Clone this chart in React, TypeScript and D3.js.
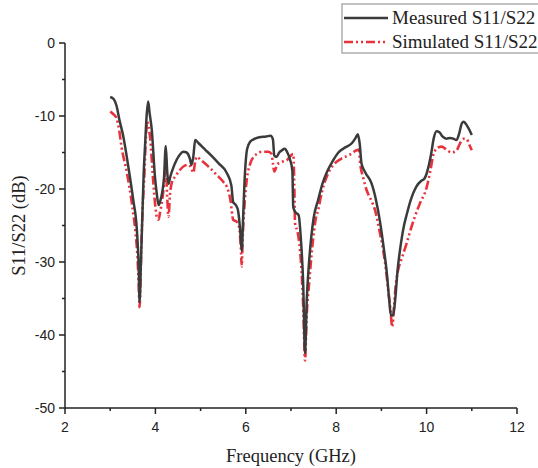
import React from "react";
import * as d3 from "d3";

const measuredX = [3.0,3.08,3.14,3.2,3.29,3.4,3.51,3.59,3.63,3.65,3.68,3.71,3.74,3.77,3.81,3.84,3.87,3.92,3.99,4.03,4.07,4.1,4.15,4.19,4.23,4.26,4.29,4.33,4.4,4.54,4.62,4.69,4.76,4.8,4.84,4.88,4.95,5.1,5.25,5.4,5.58,5.68,5.72,5.78,5.83,5.88,5.91,5.94,5.98,6.03,6.1,6.17,6.3,6.45,6.55,6.6,6.63,6.68,6.74,6.8,6.86,6.92,6.98,7.03,7.05,7.1,7.17,7.22,7.27,7.31,7.35,7.4,7.45,7.5,7.6,7.7,7.8,7.92,8.05,8.2,8.35,8.43,8.48,8.52,8.56,8.65,8.78,8.88,8.97,9.05,9.12,9.17,9.21,9.26,9.3,9.36,9.42,9.5,9.56,9.65,9.78,9.88,9.95,10.04,10.1,10.16,10.22,10.28,10.35,10.44,10.52,10.59,10.66,10.72,10.78,10.82,10.87,10.92,11.0];
const measuredY = [-7.4,-7.7,-8.6,-10.4,-12.8,-16.9,-21.5,-25.6,-30.6,-35.5,-30,-24,-18,-14.2,-9.6,-8.0,-9.5,-11.9,-18.3,-20.6,-22.2,-21.8,-20.5,-18.5,-14.1,-17.5,-19.3,-18.3,-17.0,-15.3,-14.9,-15.0,-15.8,-16.7,-15.5,-13.3,-13.7,-14.6,-15.5,-16.5,-17.8,-19.5,-21.8,-22.2,-23,-26,-28.5,-24,-18,-14.5,-13.5,-13.2,-12.9,-12.8,-12.7,-13.2,-15.4,-15.6,-15.0,-14.7,-14.5,-15.0,-16.0,-17.5,-22.5,-23.2,-23.6,-27,-33,-42.5,-35,-30,-26.5,-24,-21.5,-19.2,-17.6,-16.2,-15.0,-14.3,-13.7,-13.0,-12.5,-13.8,-16.5,-17.8,-19.2,-21.5,-24.5,-28,-31.5,-35,-37.3,-37.3,-35.5,-31,-28,-25,-23.5,-21.5,-19.6,-18.9,-18.6,-17.0,-15.2,-13.0,-12.1,-12.2,-12.8,-13.1,-13.0,-13.1,-13.3,-12.4,-11.0,-10.8,-11.1,-11.6,-12.6];

const simulatedX = [3.0,3.08,3.14,3.2,3.25,3.37,3.48,3.56,3.6,3.63,3.65,3.68,3.7,3.73,3.75,3.79,3.82,3.85,3.88,3.95,4.0,4.03,4.07,4.1,4.17,4.21,4.23,4.26,4.29,4.32,4.36,4.45,4.54,4.65,4.73,4.8,4.84,4.88,4.91,5.0,5.17,5.36,5.5,5.58,5.66,5.72,5.8,5.85,5.89,5.91,5.93,5.96,6.0,6.02,6.1,6.17,6.25,6.35,6.5,6.57,6.6,6.63,6.7,6.8,6.92,7.0,7.05,7.07,7.09,7.15,7.22,7.27,7.31,7.35,7.4,7.47,7.55,7.6,7.68,7.75,7.85,7.97,8.1,8.3,8.45,8.5,8.53,8.6,8.67,8.77,8.86,8.95,9.04,9.1,9.15,9.2,9.24,9.28,9.32,9.37,9.45,9.56,9.65,9.74,9.85,10.0,10.08,10.15,10.19,10.26,10.33,10.44,10.55,10.62,10.67,10.72,10.78,10.84,10.89,10.95,11.0];
const simulatedY = [-9.4,-9.8,-10.3,-12,-14.2,-17.8,-22,-26,-29,-33,-36.2,-30,-25.6,-21,-18.8,-13,-10.8,-11.5,-12.8,-18.8,-22.5,-23.8,-24.2,-23.3,-20.6,-18,-16.9,-21,-23.8,-21,-19.2,-18.2,-17.4,-16.8,-16.7,-17.2,-17.8,-16.2,-15.6,-16,-16.9,-18.1,-19,-19.7,-21.5,-24.2,-24.5,-25.2,-28,-30.6,-27,-23.3,-20,-18.8,-16.5,-15.6,-15.2,-14.9,-14.9,-15.2,-16.5,-17.6,-16.6,-16.3,-16,-15.4,-15.2,-18.5,-24.7,-26,-30,-36,-43.5,-37,-33,-28,-24,-22.9,-20.5,-19,-17.5,-16.5,-15.9,-15.3,-14.7,-14.6,-16.5,-18.5,-20.1,-21.5,-22.9,-25.5,-28.4,-31,-33.8,-36.5,-38.9,-36,-33,-31.1,-29.5,-27.4,-25.5,-23.8,-22,-19.8,-17.6,-15.3,-14.7,-14.3,-14.2,-14.6,-15.0,-14.9,-14.7,-14.0,-13.3,-13.1,-13.2,-14.0,-14.7];

const xTicks = [2, 4, 6, 8, 10, 12];
const yTicks = [0, -10, -20, -30, -40, -50];
const xMinor = [3, 5, 7, 9, 11];
const yMinor = [-5, -15, -25, -35, -45];
const seriesNames = ["Measured S11/S22", "Simulated S11/S22"];

const W = 538, H = 468;
const left = 65, right = 517, top = 43, bottom = 408;
const MEAS = "#3b3b3b";
const SIM = "#e8333c";
const DASH = "9,3,2,3,2,3";

export default function App() {
  const x = d3.scaleLinear().domain([2, 12]).range([left, right]);
  const y = d3.scaleLinear().domain([-50, 0]).range([bottom, top]);
  const line = d3
    .line<[number, number]>()
    .x((d) => x(d[0]))
    .y((d) => y(d[1]))
    .curve(d3.curveMonotoneX);
  const meas = measuredX.map((v, i) => [v, measuredY[i]] as [number, number]);
  const sim = simulatedX.map((v, i) => [v, simulatedY[i]] as [number, number]);
  const axisColor = "#222";
  const sans = "Arial, 'Liberation Sans', sans-serif";
  const serif = "'Times New Roman', 'Liberation Serif', serif";
  return (
    <svg width={W} height={H} style={{ position: "absolute", left: 0, top: 0, background: "#fff" }}>
      <path d={line(sim) || ""} fill="none" stroke={SIM} strokeWidth={2.6} strokeDasharray={DASH} />
      <path d={line(meas) || ""} fill="none" stroke={MEAS} strokeWidth={2.5} />
      {/* axes */}
      <line x1={left} x2={left} y1={top} y2={bottom} stroke={axisColor} strokeWidth={1.5} />
      <line x1={left} x2={right} y1={bottom} y2={bottom} stroke={axisColor} strokeWidth={1.5} />
      {yTicks.map((t) => (
        <g key={"yt" + t}>
          <line x1={left - 6} x2={left} y1={y(t)} y2={y(t)} stroke={axisColor} strokeWidth={1.5} />
          <text x={left - 10} y={y(t)} dy="0.35em" textAnchor="end" fontFamily={sans} fontSize={14} fill="#222">
            {t}
          </text>
        </g>
      ))}
      {yMinor.map((t) => (
        <line key={"ym" + t} x1={left - 3} x2={left} y1={y(t)} y2={y(t)} stroke={axisColor} strokeWidth={1.5} />
      ))}
      {xTicks.map((t) => (
        <g key={"xt" + t}>
          <line x1={x(t)} x2={x(t)} y1={bottom} y2={bottom + 6} stroke={axisColor} strokeWidth={1.5} />
          <text x={x(t)} y={bottom + 24} textAnchor="middle" fontFamily={sans} fontSize={14} fill="#222">
            {t}
          </text>
        </g>
      ))}
      {xMinor.map((t) => (
        <line key={"xm" + t} x1={x(t)} x2={x(t)} y1={bottom} y2={bottom + 3} stroke={axisColor} strokeWidth={1.5} />
      ))}
      <text x={(left + right) / 2} y={462} textAnchor="middle" fontFamily={serif} fontSize={18.5} fill="#222">
        Frequency (GHz)
      </text>
      <text
        transform={`translate(25, ${(top + bottom) / 2}) rotate(-90)`}
        textAnchor="middle"
        fontFamily={serif}
        fontSize={18.5}
        fill="#222"
      >
        S11/S22 (dB)
      </text>
      {/* legend */}
      <rect x={342} y={4} width={200} height={49} fill="#fff" stroke="#9a9a9a" strokeWidth={1.2} />
      <line x1={344} x2={388} y1={18} y2={18} stroke={MEAS} strokeWidth={2.5} />
      <text x={392} y={24} fontFamily={serif} fontSize={19} fill="#222">
        {seriesNames[0]}
      </text>
      <line x1={344} x2={388} y1={42} y2={42} stroke={SIM} strokeWidth={2.6} strokeDasharray={DASH} />
      <text x={392} y={48} fontFamily={serif} fontSize={19} fill="#222">
        {seriesNames[1]}
      </text>
    </svg>
  );
}
